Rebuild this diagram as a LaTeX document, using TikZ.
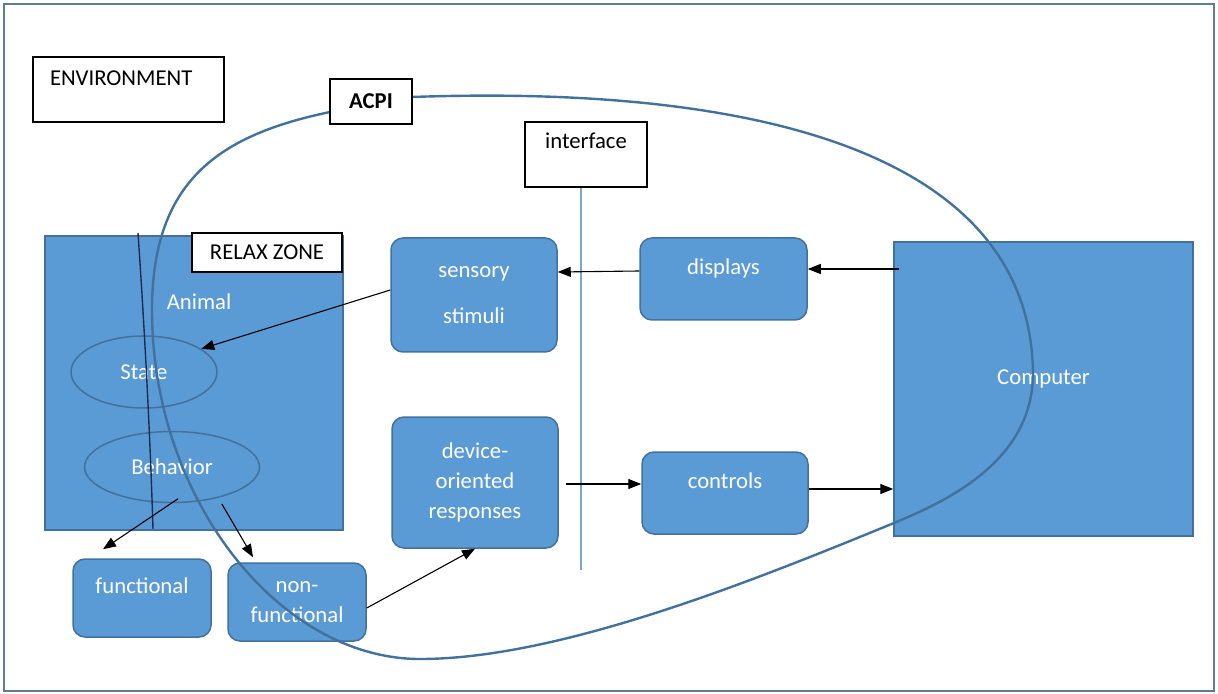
\documentclass[tikz,border=0pt]{standalone}
\usepackage{fontspec}
\setmainfont{Carlito}
\usepackage{tikz}
\usetikzlibrary{arrows.meta,shapes.geometric}
\definecolor{boxblue}{HTML}{5B9BD5}
\definecolor{edgeblue}{HTML}{41719C}
\definecolor{framegray}{HTML}{5F7D8F}
\definecolor{zoneline}{HTML}{1F2D4D}
\definecolor{ifaceline}{HTML}{7FA6C9}
\newcommand{\figfont}{\fontsize{11.35pt}{15pt}\selectfont}

\begin{document}
\begin{tikzpicture}[
  x=0.5pt, y=-0.5pt,
  font=\figfont,
  bluebox/.style={draw=edgeblue, fill=boxblue, line width=0.75pt, text=white,
                  align=center, inner sep=0pt},
  rbox/.style={bluebox, rounded corners=6pt},
  oval/.style={ellipse, draw=edgeblue, line width=0.75pt, text=white, inner sep=0pt},
  whitebox/.style={draw=black, fill=white, line width=0.7pt, inner sep=0pt},
  upper/.style={text height=8.5pt, text depth=#1}, upper/.default=12.8pt,
  ar/.style={-{Triangle[length=6.5pt,width=5pt]}, line width=0.55pt},
  acpiline/.style={draw=edgeblue, line width=1.2pt}
]
\useasboundingbox (0,0) rectangle (1218,694);
\draw[framegray, line width=1pt] (4,4) rectangle (1214,691);

\node[bluebox, minimum width=149pt, minimum height=147pt] (animal) at (194,383) {};
\node[text=white] (animaltxt) at (199,302) {Animal};
\node[oval, minimum width=73pt, minimum height=36pt] (state) at (144,372) {State};
\node[oval, minimum width=87.5pt, minimum height=35.5pt] (behav) at (172,467) {Behavior};
\node[rbox, minimum width=83pt, minimum height=57pt] (sens) at (474,295) {sensory\\[8pt]stimuli};
\node[rbox, upper, minimum width=83.5pt, minimum height=41pt] (disp) at (723.5,279) {displays};
\node[rbox, minimum width=83pt, minimum height=65.5pt] (dev) at (475,482.5) {device-\\oriented\\responses};
\node[rbox, upper, minimum width=83pt, minimum height=41pt] (ctrl) at (725,493) {controls};
\node[bluebox, upper, minimum width=149.5pt, minimum height=147pt] (comp) at (1043.5,389) {Computer};
\node[rbox, upper, minimum width=69pt, minimum height=39pt] (func) at (142,598) {functional};
\node[rbox, minimum width=69pt, minimum height=39pt] (nonf) at (297,602) {non-\\functional};

\node[whitebox, upper=14.8pt, minimum width=61pt, minimum height=32.5pt] (iface) at (586,154.5) {interface};
\coordinate (ifend) at (581,570);
\draw[ifaceline, line width=0.6pt] ([xshift=-2.5pt]iface.south) -- (ifend);

% relax zone border and ACPI loop
\draw[zoneline, line width=0.7pt] (138,233) .. controls (144,320) and (150,430) .. (153,529);
\draw[acpiline] (412,97) .. controls (750,85) and (1030,150) .. (1033,373)
  .. controls (1033,460) and (949.5,500) .. (894,523)
  .. controls (755,580) and (560,659) .. (420,659)
  .. controls (280,659) and (152,500) .. (152,310)
  .. controls (152,180) and (220,135) .. (330,112)
  .. controls (370,103.6) and (380,98) .. cycle;

\draw[ar] ([xshift=3pt,yshift=60pt]comp.west) -- ([yshift=5pt]disp.east);
\draw[ar] ([yshift=4pt]disp.west) -- ([yshift=11.5pt]sens.east);
\draw[ar] ([yshift=2.5pt]sens.west) -- (state.22);
\draw[ar] ([xshift=3pt,yshift=2.25pt]behav.south) -- ([xshift=-19.5pt,yshift=4.5pt]func.north);
\draw[ar] ([yshift=-3.5pt]behav.-31) -- ([xshift=-22pt,yshift=2.5pt]nonf.north);
\draw[ar] ([yshift=-3pt]nonf.east) -- (dev.south);
\draw[ar] ([xshift=3.5pt,yshift=-0.75pt]dev.east) -- ([yshift=4.5pt]ctrl.west);
\draw[ar] ([yshift=2pt]ctrl.east) -- ([yshift=-50pt]comp.west);

\node[whitebox, upper, minimum height=32.5pt, text width=78.5pt, inner xsep=8.5pt,
      align=left] (env) at (128.5,89.5) {ENVIRONMENT};
\node[whitebox, font={\figfont\bfseries}, minimum width=41pt, minimum height=22.5pt] (acpi) at (371,101.5) {ACPI};
\node[whitebox, minimum width=75pt, minimum height=19.5pt] (relax) at (267,252.5) {RELAX ZONE};
\end{tikzpicture}
\end{document}
